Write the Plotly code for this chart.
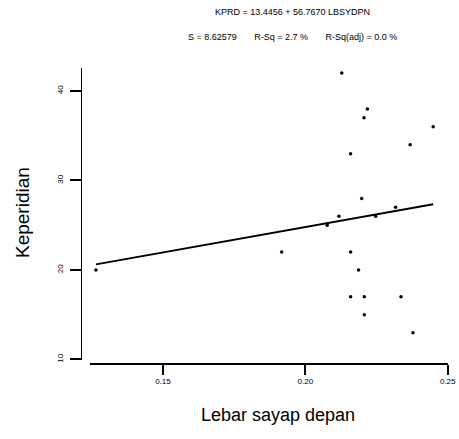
import plotly.graph_objects as go

# Data
lebar_sayap = [0.1265, 0.1917, 0.2077, 0.2118, 0.2128, 0.2159, 0.2159, 0.2159,
               0.2187, 0.2198, 0.2206, 0.2207, 0.2207, 0.2218, 0.2247, 0.2317,
               0.2336, 0.2368, 0.2378, 0.2449]
keperidian = [20, 22, 25, 26, 42, 33, 22, 17,
              20, 28, 37, 17, 15, 38, 26, 27,
              17, 34, 13, 36]
intercept = 13.4456
slope = 56.7670
x_ticks = [0.15, 0.20, 0.25]
x_ticktext = ["0.15", "0.20", "0.25"]
y_ticks = [10, 20, 30, 40]

W, H = 459, 439
px = lambda v: v / W
py = lambda v: 1 - v / H

x_line = [min(lebar_sayap), max(lebar_sayap)]
y_line = [intercept + slope * v for v in x_line]

fig = go.Figure()
fig.add_trace(go.Scatter(x=x_line, y=y_line, mode="lines",
                         line=dict(color="black", width=1.8),
                         showlegend=False, hoverinfo="skip"))
fig.add_trace(go.Scatter(x=lebar_sayap, y=keperidian, mode="markers",
                         marker=dict(color="black", size=3.5),
                         showlegend=False))
# empty trace to carry the separately drawn y axis
fig.add_trace(go.Scatter(x=[], y=[], xaxis="x2", yaxis="y2", showlegend=False))

font = "Liberation Sans, Arial, sans-serif"
ann = dict(xref="paper", yref="paper", showarrow=False,
           xanchor="center", yanchor="middle")
fig.update_layout(
    template="none",
    width=W, height=H,
    margin=dict(l=0, r=0, t=0, b=0, pad=0),
    paper_bgcolor="white", plot_bgcolor="rgba(0,0,0,0)",
    font=dict(family=font, color="black"),
    showlegend=False,
    xaxis=dict(domain=[px(90), px(448)], range=[0.1244, 0.2501],
               anchor="y", automargin=False,
               showline=True, linecolor="black", linewidth=1.5,
               ticks="outside", ticklen=10, tickwidth=1.5, tickcolor="black",
               tickmode="array", tickvals=x_ticks, ticktext=x_ticktext,
               tickfont=dict(size=8), showgrid=False, zeroline=False),
    yaxis=dict(domain=[py(363), py(68)], range=[9.61, 42.57],
               anchor="x", visible=False, automargin=False,
               showgrid=False, zeroline=False),
    xaxis2=dict(domain=[px(82), px(448)], range=[0, 1], anchor="y2",
                visible=False, automargin=False,
                showgrid=False, zeroline=False),
    yaxis2=dict(domain=[py(360), py(68)], range=[9.94, 42.57],
                anchor="x2", side="left", automargin=False,
                showline=True, linecolor="black", linewidth=1.2,
                ticks="outside", ticklen=11, tickwidth=1.5, tickcolor="black",
                tickmode="array", tickvals=y_ticks, tickangle=-90,
                ticklabelstandoff=4,
                tickfont=dict(size=8), showgrid=False, zeroline=False),
    annotations=[
        dict(text="KPRD = 13.4456 + 56.7670 LBSYDPN", x=px(292), y=py(12),
             font=dict(size=9), **ann),
        dict(text="S = 8.62579&nbsp;&nbsp;&nbsp;&nbsp;&nbsp;&nbsp;&nbsp;R-Sq = 2.7 %&nbsp;&nbsp;&nbsp;&nbsp;&nbsp;&nbsp;&nbsp;R-Sq(adj) = 0.0 %",
             x=px(292), y=py(37), font=dict(size=9), **ann),
        dict(text="Keperidian", x=px(22), y=py(213), textangle=-90,
             font=dict(size=19), **ann),
        dict(text="Lebar sayap depan", x=px(278), y=py(415),
             font=dict(size=18), **ann),
    ],
)

fig.write_html("out.html")
